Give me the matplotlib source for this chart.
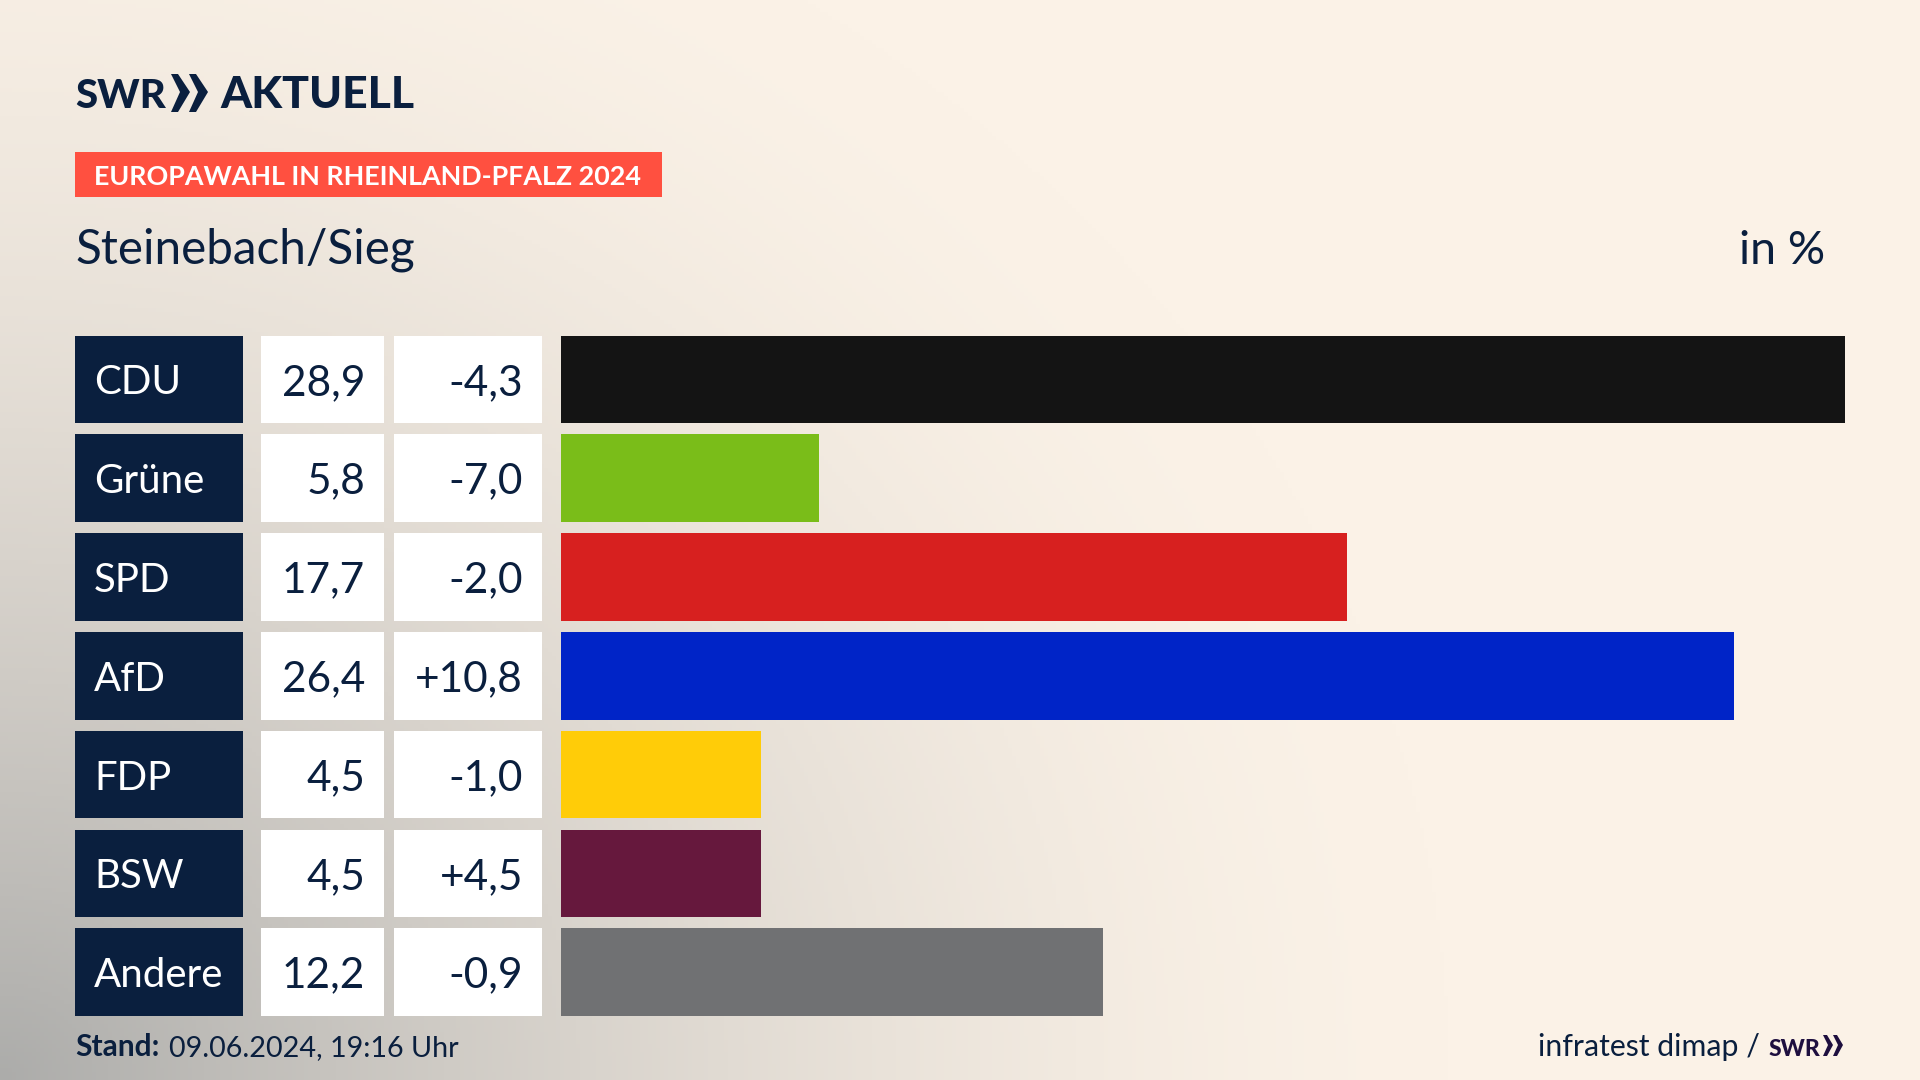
import numpy as np
import matplotlib
matplotlib.use("Agg")
import matplotlib.pyplot as plt
from matplotlib.patches import Polygon, Rectangle

parties = ["CDU", "Grüne", "SPD", "AfD", "FDP", "BSW", "Andere"]
shares = [28.9, 5.8, 17.7, 26.4, 4.5, 4.5, 12.2]
changes = [-4.3, -7.0, -2.0, 10.8, -1.0, 4.5, -0.9]
colors = ["#141414", "#7ABD19", "#D7201F", "#0024C7", "#FFCC08", "#66183D", "#707173"]

NAVY = "#0A1F3E"
FONT = "Lato"


def de(v, sign=False):
    s = f"{v:+.1f}" if sign else f"{v:.1f}"
    return s.replace(".", ",")


fig = plt.figure(figsize=(19.2, 10.8), dpi=100)

# page in pixel coordinates, y downwards
page = fig.add_axes([0, 0, 1, 1])

# background: cream, going grey towards the bottom left corner
xx, yy = np.meshgrid(np.linspace(0, 1920, 480), np.linspace(0, 1080, 270))
dist = np.sqrt((xx / 1450) ** 2 + ((1080 - yy) / 1300) ** 2)
fade = np.clip(1 - dist, 0, 1) ** 1.6
cream = np.array([251, 242, 231]) / 255
grey = np.array([172, 172, 170]) / 255
bg = cream + (grey - cream) * fade[..., None]
page.imshow(bg, extent=(0, 1920, 1080, 0), aspect="auto", zorder=0)
page.set_xlim(0, 1920)
page.set_ylim(1080, 0)
page.axis("off")

# logo
page.text(75, 108, "SWR", fontsize=29, fontweight="black", family=FONT, color=NAVY, va="baseline")
for dx in (0, 18):
    page.add_patch(Polygon([[171 + dx, 74], [178 + dx, 74], [190 + dx, 92], [178 + dx, 112],
                            [171 + dx, 112], [180 + dx, 92]], closed=True, color=NAVY, lw=0))
page.text(220, 108, "AKTUELL", fontsize=32, fontweight="black", family=FONT, color=NAVY, va="baseline")

# tag and title
page.add_patch(Rectangle((75, 152), 587, 45, color="#FF5040", lw=0))
page.text(94, 175, "EUROPAWAHL IN RHEINLAND-PFALZ 2024", fontsize=19.4, fontweight="bold",
          family=FONT, color="white", va="center_baseline")
page.text(75, 264, "Steinebach/Sieg", fontsize=34.3, family=FONT, color=NAVY, va="baseline")
page.text(1825, 264, "in %", fontsize=33.5, family=FONT, color=NAVY, va="baseline", ha="right")

# rows
row_top = 335.6
row_step = 98.8
row_h = 87.5
for i, party in enumerate(parties):
    y = row_top + i * row_step
    mid = y + row_h / 2
    page.add_patch(Rectangle((75, y), 167.5, row_h, color=NAVY, lw=0))
    page.add_patch(Rectangle((261, y), 122.5, row_h, color="white", lw=0))
    page.add_patch(Rectangle((394, y), 148, row_h, color="white", lw=0))
    page.text(94, mid, party, fontsize=29, family=FONT, color="white", va="center_baseline")
    page.text(365, mid, de(shares[i]), fontsize=30.5, family=FONT, color=NAVY, ha="right", va="center_baseline")
    page.text(523, mid, de(changes[i], sign=changes[i] > 0), fontsize=30.5, family=FONT, color=NAVY,
              ha="right", va="center_baseline")

# bars on their own axes, top row to bottom row of the table
top_px = row_top
bot_px = row_top + 6 * row_step + row_h
ax = fig.add_axes([561 / 1920, 1 - bot_px / 1080, (1845 - 561) / 1920, (bot_px - top_px) / 1080])
ax.patch.set_alpha(0)
ax.barh(range(len(parties)), shares, height=row_h / row_step, color=colors)
half = row_h / row_step / 2
ax.set_ylim(len(parties) - 1 + half, -half)
ax.set_xlim(0, max(shares))
ax.axis("off")

# footer
page.text(75, 1056, "Stand:", fontsize=21.5, fontweight="bold", family=FONT, color=NAVY, va="baseline")
page.text(169, 1056, "09.06.2024, 19:16 Uhr", fontsize=20.7, family=FONT, color=NAVY, va="baseline")
page.text(1760, 1056, "infratest dimap /", fontsize=21.8, family=FONT, color=NAVY, va="baseline", ha="right")
page.text(1769, 1056, "SWR", fontsize=16.5, fontweight="black", family=FONT, color="#1E0F3F", va="baseline")
for dx in (0, 10):
    page.add_patch(Polygon([[1823 + dx, 1035], [1827 + dx, 1035], [1833 + dx, 1045], [1827 + dx, 1056],
                            [1823 + dx, 1056], [1828 + dx, 1045]], closed=True, color="#1E0F3F", lw=0))

fig.savefig("out.png", dpi=100)
